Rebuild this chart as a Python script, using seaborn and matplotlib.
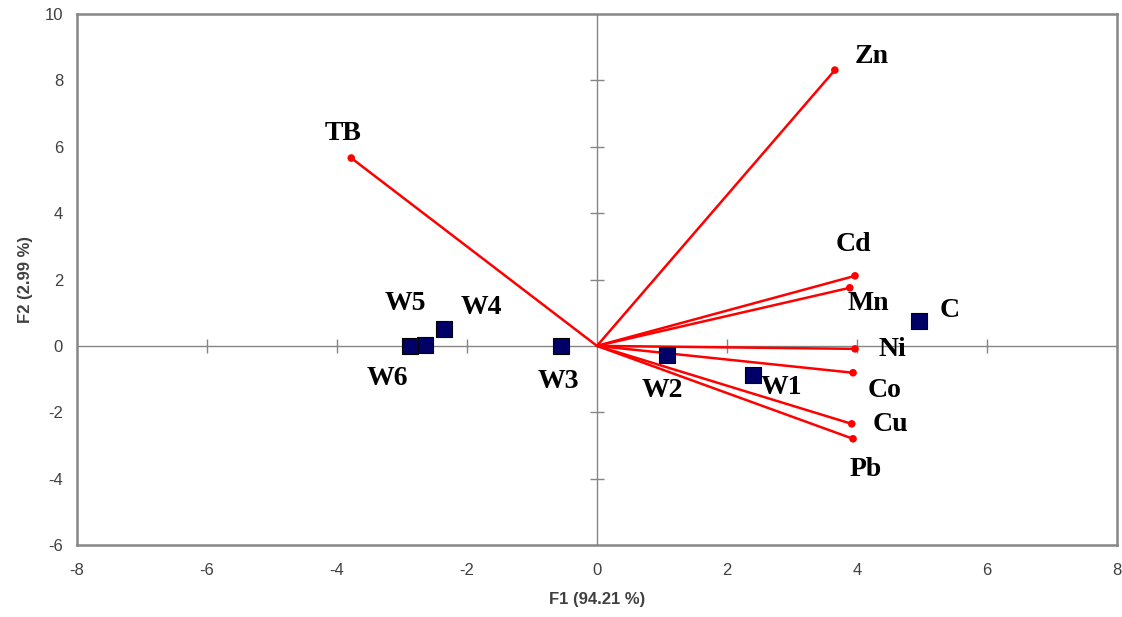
import numpy as np
import pandas as pd
import matplotlib
matplotlib.use("Agg")
import matplotlib.pyplot as plt
import seaborn as sns

# variables (loadings, red vectors)
var_names = ["TB", "Zn", "Cd", "Mn", "Ni", "Co", "Cu", "Pb"]
var_f1 = [-3.78, 3.66, 3.97, 3.89, 3.97, 3.94, 3.92, 3.94]
var_f2 = [5.66, 8.31, 2.11, 1.75, -0.09, -0.81, -2.35, -2.80]
# label offsets from the vector tip (in data units)
var_dx = [-0.12, 0.57, -0.03, 0.28, 0.58, 0.49, 0.60, 0.20]
var_dy = [0.74, 0.40, 0.93, -0.48, -0.03, -0.52, -0.03, -0.93]

# observations (blue squares)
obs_names = ["C", "W1", "W2", "W3", "W4", "W5", "W6"]
obs_f1 = [4.95, 2.40, 1.08, -0.55, -2.35, -2.65, -2.88]
obs_f2 = [0.75, -0.87, -0.27, 0.00, 0.51, 0.03, 0.00]
obs_dx = [0.48, 0.43, -0.08, -0.05, 0.57, -0.29, -0.35]
obs_dy = [0.33, -0.39, -1.06, -1.08, 0.66, 1.24, -0.99]

x_ticks = [-8, -6, -4, -2, 0, 2, 4, 6, 8]
y_ticks = [-6, -4, -2, 0, 2, 4, 6, 8, 10]

var_df = pd.DataFrame({"name": var_names, "F1": var_f1, "F2": var_f2})
obs_df = pd.DataFrame({"name": obs_names, "F1": obs_f1, "F2": obs_f2})

sns.set_style("white")
plt.rcParams["font.family"] = ["Liberation Sans", "DejaVu Sans"]
plt.rcParams["axes.unicode_minus"] = False

fig = plt.figure(figsize=(11.22, 6.17), dpi=100)
ax = fig.add_axes([0.0686, 0.1167, 0.9269, 0.8606])

grey = "#868686"
# cross axes through origin, with small tick crosses
ax.axhline(0, color=grey, lw=1, zorder=1)
ax.axvline(0, color=grey, lw=1, zorder=1)
inner_x = [t for t in x_ticks if t not in (-8, 0, 8)]
inner_y = [t for t in y_ticks if t not in (-6, 0, 10)]
ax.plot(inner_x, [0] * len(inner_x), ls="none",
        marker="|", ms=10, mew=1, color=grey, zorder=1)
ax.plot([0] * len(inner_y), inner_y, ls="none",
        marker="_", ms=10, mew=1, color=grey, zorder=1)

# vectors
for _, r in var_df.iterrows():
    ax.plot([0, r.F1], [0, r.F2], color="#ff0000", lw=1.8, zorder=2)
sns.scatterplot(data=var_df, x="F1", y="F2", color="#ff0000", s=30,
                edgecolor="none", ax=ax, zorder=3)

# observations
sns.scatterplot(data=obs_df, x="F1", y="F2", marker="s", color="#000066",
                s=140, edgecolor="black", linewidth=0.8, ax=ax, zorder=4)

lab_font = dict(family=["Liberation Serif", "DejaVu Serif"], fontsize=20,
                fontweight="bold", ha="center", va="center", color="black")
for n, x, y, dx, dy in zip(var_names, var_f1, var_f2, var_dx, var_dy):
    ax.text(x + dx, y + dy, n, **lab_font)
for n, x, y, dx, dy in zip(obs_names, obs_f1, obs_f2, obs_dx, obs_dy):
    ax.text(x + dx, y + dy, n, **lab_font)

ax.set_xlim(-8, 8)
ax.set_ylim(-6, 10)
ax.set_xticks(x_ticks)
ax.set_yticks(y_ticks)
ax.tick_params(length=0, labelsize=12, colors="#404040", pad=13)
ax.tick_params(axis="y", pad=10)
ax.set_xlabel("F1 (94.21 %)", fontsize=12, fontweight="bold", color="#404040", labelpad=10)
ax.set_ylabel("F2 (2.99 %)", fontsize=12, fontweight="bold", color="#404040", labelpad=8)
for s in ax.spines.values():
    s.set_color(grey)
    s.set_linewidth(1.8)

fig.savefig("out.png", dpi=100)
